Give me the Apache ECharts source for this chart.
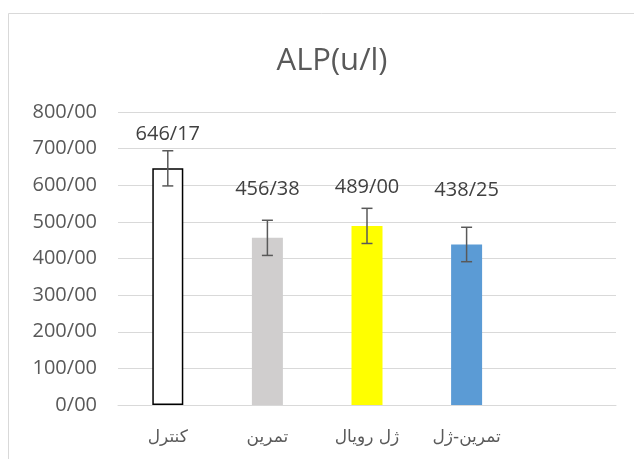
<!DOCTYPE html>
<html>
<head>
<meta charset="utf-8">
<script src="https://cdn.jsdelivr.net/npm/echarts@6/dist/echarts.min.js"></script>
<style>
html,body{margin:0;padding:0;background:#fff;}
#c{width:634px;height:459px;}
</style>
</head>
<body>
<div id="c"></div>
<script>
// ---- data ----
const categories = ['کنترل', 'تمرین', 'ژل رویال', 'تمرین-ژل'];
const values = [646.17, 456.38, 489.00, 438.25];
const errors = [48, 48, 48, 47];
const yTicks = [0, 100, 200, 300, 400, 500, 600, 700, 800];

// ---- styling ----
const barColors = ['#ffffff', '#d0cece', '#ffff00', '#5b9bd5'];
const labelLift = [24, 39, 29, 44];
const fmt = v => Number(v).toFixed(2).replace('.', '/');

const chart = echarts.init(document.getElementById('c'));
const axisCats = categories.concat(['']); // empty fifth slot as in reference

chart.setOption({
  animation: false,
  backgroundColor: '#ffffff',
  title: {
    text: 'ALP(u/l)',
    left: 327, top: 41,
    textAlign: 'center',
    textStyle: {fontFamily: 'Open Sans', fontSize: 31, fontWeight: 'normal', color: '#595959'}
  },
  graphic: [{
    type: 'rect',
    shape: {x: 8.5, y: 13.5, width: 700, height: 600},
    style: {fill: 'none', stroke: '#d9d9d9', lineWidth: 1},
    silent: true
  }],
  grid: {left: 118, right: 18, top: 112, bottom: 54},
  xAxis: {
    type: 'category',
    data: axisCats,
    axisTick: {show: false},
    axisLine: {lineStyle: {color: '#d9d9d9', width: 1}},
    axisLabel: {fontFamily: 'DejaVu Sans', fontSize: 17, color: '#595959', margin: 24}
  },
  yAxis: {
    type: 'value',
    min: yTicks[0], max: yTicks[yTicks.length - 1], interval: 100,
    axisLine: {show: false},
    axisTick: {show: false},
    splitLine: {lineStyle: {color: '#d9d9d9', width: 1}},
    axisLabel: {fontFamily: 'Open Sans', fontSize: 20, color: '#595959', margin: 21, formatter: v => fmt(v)}
  },
  series: [
    {
      type: 'bar',
      barWidth: 31,
      data: values.map((v, i) => ({
        value: v,
        itemStyle: {
          color: barColors[i],
          borderColor: i === 0 ? '#000000' : barColors[i],
          borderWidth: i === 0 ? 1.5 : 0
        },
        label: {distance: labelLift[i]}
      })),
      label: {
        show: true, position: 'top',
        fontFamily: 'Open Sans', fontSize: 20, color: '#404040',
        formatter: p => fmt(p.value)
      },
      z: 2
    },
    {
      type: 'custom',
      data: values.map((v, i) => [i, v - errors[i], v + errors[i]]),
      renderItem: function (params, api) {
        const x = api.coord([api.value(0), 0])[0];
        const lo = api.coord([api.value(0), api.value(1)])[1];
        const hi = api.coord([api.value(0), api.value(2)])[1];
        const cap = 5.5;
        const st = {stroke: '#595959', lineWidth: 1.5};
        return {
          type: 'group',
          children: [
            {type: 'line', shape: {x1: x, y1: lo, x2: x, y2: hi}, style: st},
            {type: 'line', shape: {x1: x - cap, y1: lo, x2: x + cap, y2: lo}, style: st},
            {type: 'line', shape: {x1: x - cap, y1: hi, x2: x + cap, y2: hi}, style: st}
          ]
        };
      },
      z: 5
    }
  ]
});
</script>
</body>
</html>
